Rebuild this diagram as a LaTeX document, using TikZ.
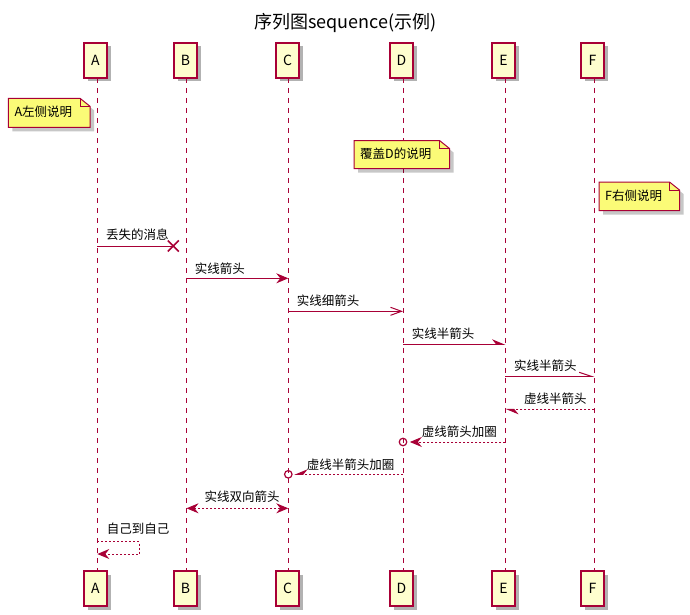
\documentclass[tikz,border=0pt]{standalone}
\usepackage{fontspec}
\setmainfont{Noto Sans CJK SC}
\usetikzlibrary{arrows.meta,shapes.misc,shadows}
\definecolor{pborder}{HTML}{A80036}
\definecolor{pfill}{HTML}{FEFECE}
\definecolor{nfill}{HTML}{FBFB77}
\tikzset{
  pFull/.tip={Stealth[length=12pt,width=10pt,inset=4pt]},
  pHalfL/.tip={Stealth[length=12pt,width=10pt,inset=4pt,left]},
  pHalfR/.tip={Stealth[length=12pt,width=10pt,inset=4pt,right]},
  pOpen/.tip={Straight Barb[length=11pt,width=8pt,line width=1pt]},
  pOpenHalfL/.tip={Straight Barb[length=12pt,width=8pt,line width=1pt,left]},
  part/.style={draw=pborder, fill=pfill, line width=1.5pt, minimum width=23pt,
    minimum height=35pt, inner sep=0pt, outer sep=0pt, font=\fontsize{14}{16}\selectfont,
    drop shadow={shadow xshift=3.5pt, shadow yshift=-3.5pt, opacity=0.3, fill=black}},
  life/.style={draw=pborder, line width=1pt, dash pattern=on 5pt off 5pt},
  msg/.style={draw=pborder, line width=1pt},
  dmsg/.style={msg, dash pattern=on 2pt off 2pt},
  lbl/.style={font=\fontsize{12.5}{15}\selectfont, inner sep=0pt, text height=0.88em,
    text depth=0.12em, anchor=west},
  circ/.style={circle, draw=pborder, line width=1.2pt, minimum size=7.5pt, inner sep=0pt},
  lost/.style={cross out, draw=pborder, line width=1.5pt, minimum size=9.5pt, inner sep=0pt}
}
\newcommand\pnote[6]{%
  \fill[black, opacity=0.22] (#2+4,#3+4) -- (#4+4-10,#3+4) -- (#4+4,#3+4+8) -- (#4+4,#5+4) -- (#2+4,#5+4) -- cycle;
  \filldraw[draw=pborder, fill=nfill, line width=1pt] (#2,#3) -- (#4-10,#3) -- (#4,#3+8) -- (#4,#5) -- (#2,#5) -- cycle;
  \draw[pborder, line width=1pt] (#4-10,#3) -- (#4-10,#3+8) -- (#4,#3+8);
  \node[lbl] (#1) at (#2+6,{(#3+#5)/2}) {#6};
}
\begin{document}
\begin{tikzpicture}[x=1pt,y=-1pt]
\useasboundingbox (0,0) rectangle (690,615);
\def\xA{97.3}\def\xB{186.5}\def\xC{288.3}\def\xD{403}\def\xE{505.3}\def\xF{594.3}

\node[font=\fontsize{18}{22}\selectfont, inner sep=0pt, text height=0.88em, text depth=0.12em] (title) at (345.5,25) {序列图sequence(示例)};

% participants
\foreach \n/\bx/\x in {A/95.5/\xA,B/185.5/\xB,C/287.5/\xC,D/401.5/\xD,E/503.5/\xE,F/592.5/\xF}{
  \node[part] (\n t) at (\bx,60.5) {\n};
  \node[part] (\n b) at (\bx,588.5) {\n};
  \draw[life] (\n t.south -| \x,0) -- (\n b.north -| \x,0);
}

% notes
\pnote{nA}{8.3}{98.3}{90}{127.3}{A左侧说明}
\pnote{nD}{354}{140.5}{449.5}{168.5}{覆盖D的说明}
\pnote{nF}{599}{182}{679.5}{210.5}{F右侧说明}

% message 1: lost
\coordinate (m1a) at (\xA,246);
\node[lost] (m1x) at (173.3,246) {};
\draw[msg] (m1a) -- (m1x.center);
\node[lbl] (l1) at (106,236) {丢失的消息};

% message 2
\coordinate (m2a) at (\xB,278.3); \coordinate (m2b) at (\xC,278.3);
\draw[msg,-pFull] (m2a) -- (m2b);
\node[lbl] (l2) at (194.7,269.3) {实线箭头};

% message 3
\coordinate (m3a) at (\xC,311.3); \coordinate (m3b) at (\xD,311.3);
\draw[msg,-pOpen] (m3a) -- (m3b);
\node[lbl] (l3) at (296.7,302) {实线细箭头};

% message 4
\coordinate (m4a) at (\xD,344.3); \coordinate (m4b) at (\xE,344.3);
\draw[msg,-pHalfL] (m4a) -- (m4b);
\node[lbl] (l4) at (411.7,334.5) {实线半箭头};

% message 5
\coordinate (m5a) at (\xE,376.3); \coordinate (m5b) at (\xF,376.3);
\draw[msg,-pOpenHalfL] (m5a) -- (m5b);
\node[lbl] (l5) at (514,366.7) {实线半箭头};

% message 6
\coordinate (m6a) at (\xF,409.3); \coordinate (m6b) at (\xE,409.3);
\draw[dmsg,-pHalfL] (m6a) -- (m6b);
\node[lbl] (l6) at (524,400) {虚线半箭头};

% message 7
\coordinate (m7a) at (\xE,442); \node[circ] (c7) at (\xD,442) {};
\draw[dmsg,-pFull,shorten >=2.5pt] (m7a) -- (c7.east);
\node[lbl] (l7) at (421.7,433) {虚线箭头加圈};

% message 8
\coordinate (m8a) at (\xD,474.3); \node[circ] (c8) at (\xC,474.3) {};
\draw[dmsg,-pHalfR,shorten >=1.7pt] (m8a) -- (c8.east);
\node[lbl] (l8) at (306.7,465.5) {虚线半箭头加圈};

% message 9
\coordinate (m9a) at (\xB,508.3); \coordinate (m9b) at (\xC,508.3);
\draw[dmsg,pFull-pFull] (m9a) -- (m9b);
\node[lbl] (l9) at (204.3,497.7) {实线双向箭头};

% message 10: self
\coordinate (m10a) at (\xA,541.7); \coordinate (m10b) at (139.3,541.7);
\coordinate (m10c) at (139.3,554); \coordinate (m10d) at (\xA,554);
\draw[dmsg,-pFull] (m10a) -- (m10b) -- (m10c) -- (m10d);
\node[lbl] (l10) at (106.7,530) {自己到自己};
\end{tikzpicture}
\end{document}
